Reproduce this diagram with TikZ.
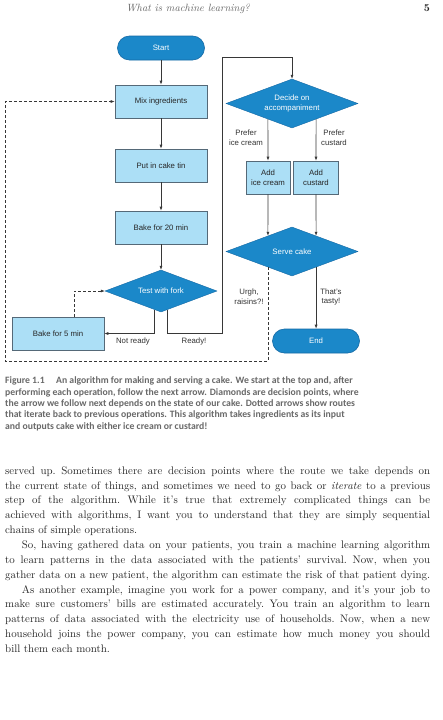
\documentclass[tikz,border=0pt]{standalone}
\usepackage{fontspec}
\newfontfamily\diagfont{Liberation Sans}
\newfontfamily\capfont{Carlito}
\usetikzlibrary{shapes.geometric,arrows.meta,calc}
\definecolor{boxfill}{RGB}{172,223,246}
\definecolor{boxline}{RGB}{85,105,120}
\definecolor{darkfill}{RGB}{27,136,201}
\definecolor{darkline}{RGB}{20,105,165}
\definecolor{linecol}{RGB}{55,55,55}
\definecolor{capcol}{RGB}{105,105,105}
\definecolor{bodycol}{RGB}{40,40,40}
\newcommand\diagsize{\fontsize{7.8}{9.6}\selectfont}
\newcommand\bodyfnt{\fontsize{10.9}{14}\selectfont\frenchspacing}
\newcommand\capfnt{\capfont\bfseries\fontsize{9.7}{11}\selectfont}
\begin{document}
\begin{tikzpicture}[x=1pt,y=-1pt,
  lbox/.style={rectangle, draw=boxline, fill=boxfill, line width=0.6pt, minimum width=92pt, minimum height=33pt, inner sep=1pt, align=center, font=\diagfont\diagsize, text=black!85},
  pill/.style={rectangle, rounded corners=12pt, draw=darkline, fill=darkfill, line width=0.6pt, minimum width=87pt, minimum height=24pt, inner sep=0pt, align=center, font=\diagfont\diagsize, text=white},
  dia/.style={diamond, aspect=2.7, draw=darkline, fill=darkfill, line width=0.4pt, inner sep=0pt, align=center, font=\diagfont\diagsize, text=white},
  lbl/.style={inner sep=0pt, align=center, font=\diagfont\diagsize, text=black!80},
  arr/.style={draw=linecol, line width=0.6pt, -{Latex[length=4pt,width=3pt]}},
  dasharr/.style={arr, dash pattern=on 3pt off 2pt},
  bodyl/.style={anchor=base west, inner sep=0pt, font=\bodyfnt, text=bodycol},
  capl/.style={anchor=base west, inner sep=0pt, font=\capfnt, text=capcol},
]
\useasboundingbox (0,0) rectangle (443,720);
\fill[white] (0,0) rectangle (443,720);

% header
\node[anchor=base, inner sep=0pt, font=\fontsize{10.5}{12}\selectfont\itshape, text=black!60] (hdr) at (188,11.5) {What is machine learning?};
\node[anchor=base, inner sep=0pt, font=\fontsize{10.5}{12}\selectfont\bfseries, text=black!85] (pg) at (427,11.5) {5};

% flowchart nodes
\node[pill] (start) at (161,48) {Start};
\node[lbox] (mix) at (161,101.5) {Mix ingredients};
\node[lbox] (tin) at (161,165.5) {Put in cake tin};
\node[lbox] (bake20) at (161,227.5) {Bake for 20 min};
\node[dia, minimum width=112pt, minimum height=42pt] (fork) at (161,291) {Test with fork};
\node[lbox] (bake5) at (58,333.5) {Bake for 5 min};
\node[dia, minimum width=132pt, minimum height=49pt] (decide) at (292,103.5) {Decide on\\accompaniment};
\node[lbox, minimum width=44pt] (addice) at (268,177.5) {Add\\ice cream};
\node[lbox, minimum width=45pt] (addcus) at (316,177.5) {Add\\custard};
\node[dia, minimum width=132pt, minimum height=49pt] (serve) at (292,251.5) {Serve cake};
\node[pill] (end) at (316,341) {End};

% edge points on diamonds
\coordinate (decL) at ($(decide.south)!{24/66}!(decide.west)$);
\coordinate (decR) at ($(decide.south)!{24/66}!(decide.east)$);
\coordinate (servUL) at ($(serve.north)!{24/66}!(serve.west)$);
\coordinate (servUR) at ($(serve.north)!{24/66}!(serve.east)$);
\coordinate (servLL) at ($(serve.south)!{24/66}!(serve.west)$);
\coordinate (servLR) at ($(serve.south)!{24/66}!(serve.east)$);
\coordinate (forkL) at ($(fork.south)!{7/56}!(fork.west)$);
\coordinate (forkR) at ($(fork.south)!{6/56}!(fork.east)$);
\coordinate (rdy1) at (222,333.5);
\coordinate (rdy2) at (222,57.5);
\coordinate (loopc) at (5,361);

% connectors
\draw[arr] (start) -- (mix);
\draw[arr] (mix) -- (tin);
\draw[arr] (tin) -- (bake20);
\draw[arr] (bake20) -- (fork);
\draw[arr] (forkL) |- (bake5.east);
\draw[dasharr] ([xshift=16pt]bake5.north) |- (fork.west);
\draw[arr] (forkR) |- (rdy1) -- (rdy2) -| (decide.north);
\draw[arr] (decL) -- (addice.north);
\draw[arr] (decR) -- (addcus.north);
\draw[arr] (addice.south) -- (servUL);
\draw[arr] (addcus.south) -- (servUR);
\draw[arr] (servLR) -- (servLR |- end.north);
\draw[dasharr] (servLL) |- (loopc) |- (mix.west);

% labels
\node[lbl] (lblice) at (246,137.5) {Prefer\\ice cream};
\node[lbl] (lblcus) at (334,137.5) {Prefer\\custard};
\node[lbl] (lblurgh) at (249,297) {Urgh,\\raisins?!};
\node[lbl] (lbltasty) at (331,297) {That’s\\tasty!};
\node[lbl] (lblnot) at (133,341) {Not ready};
\node[lbl] (lblready) at (194,341) {Ready!};

% caption
\node[capl] (c0) at (5,383.8) {Figure 1.1};
\node[capl] (c1) at (56,383.8) {An algorithm for making and serving a cake. We start at the top and, after};
\node[capl] (c2) at (5,395.13) {performing each operation, follow the next arrow. Diamonds are decision points, where};
\node[capl] (c3) at (5,406.46) {the arrow we follow next depends on the state of our cake. Dotted arrows show routes};
\node[capl] (c4) at (5,417.79) {that iterate back to previous operations. This algorithm takes ingredients as its input};
\node[capl] (c5) at (5,429.12) {and outputs cake with either ice cream or custard!};

% body text
\node[bodyl] (b1) at (5,474.2) {\makebox[425pt][s]{served up. Sometimes there are decision points where the route we take depends on}};
\node[bodyl] (b2) at (5,489.05) {\makebox[425pt][s]{the current state of things, and sometimes we need to go back or \emph{iterate} to a previous}};
\node[bodyl] (b3) at (5,503.9) {\makebox[425pt][s]{step of the algorithm. While it’s true that extremely complicated things can be}};
\node[bodyl] (b4) at (5,518.75) {\makebox[425pt][s]{achieved with algorithms, I want you to understand that they are simply sequential}};
\node[bodyl] (b5) at (5,533.6) {chains of simple operations.};
\node[bodyl] (b6) at (21.7,548.45) {\makebox[408.3pt][s]{So, having gathered data on your patients, you train a machine learning algorithm}};
\node[bodyl] (b7) at (5,563.3) {\makebox[425pt][s]{to learn patterns in the data associated with the patients’ survival. Now, when you}};
\node[bodyl] (b8) at (5,578.15) {\makebox[425pt][s]{gather data on a new patient, the algorithm can estimate the risk of that patient dying.}};
\node[bodyl] (b9) at (21.7,593) {\makebox[408.3pt][s]{As another example, imagine you work for a power company, and it’s your job to}};
\node[bodyl] (b10) at (5,607.85) {\makebox[425pt][s]{make sure customers’ bills are estimated accurately. You train an algorithm to learn}};
\node[bodyl] (b11) at (5,622.7) {\makebox[425pt][s]{patterns of data associated with the electricity use of households. Now, when a new}};
\node[bodyl] (b12) at (5,637.55) {\makebox[425pt][s]{household joins the power company, you can estimate how much money you should}};
\node[bodyl] (b13) at (5,652.4) {bill them each month.};
\end{tikzpicture}
\end{document}
